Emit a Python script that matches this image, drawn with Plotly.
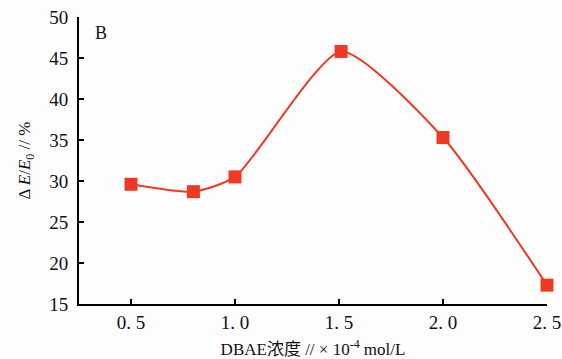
import plotly.graph_objects as go

conc = [0.5, 0.8, 1.0, 1.51, 2.0, 2.5]
delta_e = [29.6, 28.7, 30.5, 45.8, 35.3, 17.3]
x_ticks = [0.5, 1.0, 1.5, 2.0, 2.5]
x_tick_text = ["0. 5", "1. 0", "1. 5", "2. 0", "2. 5"]
y_ticks = [15, 20, 25, 30, 35, 40, 45, 50]

RED = "#ee3a24"
FONT = "Liberation Serif, Noto Sans CJK SC, serif"

fig = go.Figure()
fig.add_trace(go.Scatter(
    x=conc, y=delta_e, mode="lines+markers",
    line=dict(color=RED, width=2, shape="spline", smoothing=0.6),
    marker=dict(symbol="square", size=13, color=RED),
    showlegend=False, cliponaxis=False,
))

fig.update_layout(
    width=562, height=359,
    margin=dict(l=79, r=15, t=17, b=55),
    paper_bgcolor="#fdfdfd", plot_bgcolor="#fdfdfd",
    font=dict(family=FONT, size=19, color="#111"),
    xaxis=dict(
        range=[0.25, 2.5], tickvals=x_ticks, ticktext=x_tick_text, automargin=False,
        showgrid=False, zeroline=False, showline=True, linecolor="#000", linewidth=2,
        ticks="inside", ticklen=5, tickwidth=2, tickcolor="#000",
        tickfont=dict(family=FONT, size=19),
        title=dict(text="DBAE浓度 // × 10<sup>-4</sup> mol/L", font=dict(family=FONT, size=17), standoff=12),
    ),
    yaxis=dict(
        range=[15, 50], tickvals=y_ticks, automargin=False,
        showgrid=False, zeroline=False, showline=True, linecolor="#000", linewidth=2,
        ticks="inside", ticklen=5, tickwidth=2, tickcolor="#000",
        tickfont=dict(family=FONT, size=19), ticklabelstandoff=5,
        title=dict(text="Δ <i>E</i>/<i>E</i><sub>0</sub> // %", font=dict(family=FONT, size=17), standoff=14),
    ),
    annotations=[dict(
        x=0.03, y=0.985, xref="paper", yref="paper", text="B", showarrow=False,
        xanchor="left", yanchor="top", font=dict(family=FONT, size=18),
    )],
)

fig.write_html("out.html")
